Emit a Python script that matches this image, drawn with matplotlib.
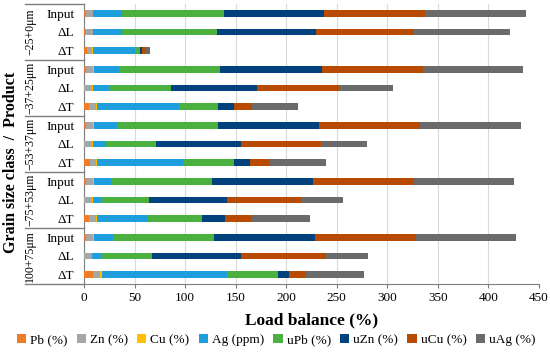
import matplotlib
matplotlib.use("Agg")
import matplotlib.pyplot as plt
import matplotlib.transforms as mtransforms
import numpy as np

plt.rcParams['font.family'] = ['Liberation Serif', 'DejaVu Serif']

groups = ['\u221225+0\u03bcm', '\u221237+25\u03bcm', '\u221253+37\u03bcm', '\u221275+53\u03bcm', '100+75\u03bcm']
products = ['Input', '\u0394L', '\u0394T']

series_names = ['Pb (%)', 'Zn (%)', 'Cu (%)', 'Ag (ppm)', 'uPb (%)', 'uZn (%)', 'uCu (%)', 'uAg (%)']
colors = ['#f07c28', '#a6a6a6', '#ffc000', '#1f9ede', '#4cb040', '#02427c', '#b84a02', '#6b6b6b']

# one value per row: group by group, Input / dL / dT
pb = [2, 2, 2.5, 2, 0.5, 5, 2, 0.5, 6, 2, 0.5, 4.6, 2, 0.5, 8.6]
zn = [6.5, 6.5, 5.5, 7, 7.5, 7, 7, 7.5, 6, 7, 7.5, 7.4, 7, 7.1, 7.2]
cu = [0.5, 0.5, 1, 0.5, 0.5, 0.5, 0.5, 0.5, 0.5, 0.5, 0.5, 0.5, 0.5, 0.4, 1.7]
ag = [29, 28.6, 41, 25.5, 16.5, 81.5, 23.5, 13, 85.5, 17.5, 8.5, 51.1, 19.5, 9, 124.2]
upb = [100, 94.4, 5, 100, 61, 38.5, 100, 49.5, 50, 99.6, 47, 53.1, 99.6, 50, 50.3]
uzn = [99, 97.5, 2.5, 100, 85, 15.5, 99.6, 84, 16, 99.4, 77, 23.1, 100, 88.6, 11]
ucu = [100, 96.5, 3.2, 100, 81.5, 18, 99.4, 79.6, 20, 100, 74, 25.2, 99.9, 83.4, 17]
uag = [100, 95, 4.3, 99, 53.5, 46, 100, 44.9, 55, 99.5, 41, 58.6, 99.2, 41.4, 57.3]

all_series = [pb, zn, cu, ag, upb, uzn, ucu, uag]

fig = plt.figure(figsize=(5.5, 3.53), dpi=100)
ax = fig.add_axes([0.1527, 0.1955, 0.8273, 0.7932])

n_rows = len(groups) * len(products)
y = np.arange(n_rows)
left = np.zeros(n_rows)
handles = []
for vals, c, name in zip(all_series, colors, series_names):
    b = ax.barh(y, vals, left=left, height=0.37, color=c, label=name, zorder=3)
    handles.append(b)
    left = left + np.array(vals)

ax.set_xlim(0, 450)
ax.set_ylim(n_rows - 0.5, -0.5)
ax.set_xticks(np.arange(0, 451, 50))
ax.grid(axis='x', color='#d9d9d9', linewidth=0.8, zorder=0)
ax.set_axisbelow(True)

ax.set_yticks(y)
ax.set_yticklabels(products * len(groups), fontsize=9.5)
ax.tick_params(axis='y', length=0, pad=7)
ax.tick_params(axis='x', labelsize=9.5, length=3, color='#7f7f7f', pad=3)

for s in ['top', 'right']:
    ax.spines[s].set_visible(False)
ax.spines['left'].set_color('#7f7f7f')
ax.spines['bottom'].set_color('#7f7f7f')

# outer category level
trans = mtransforms.blended_transform_factory(ax.transAxes, ax.transData)
x_line = -59 / 455.0
for i in range(len(groups) + 1):
    yy = i * len(products) - 0.5
    ax.plot([x_line, 0], [yy, yy], transform=trans, color='#7f7f7f', lw=1, clip_on=False)
for i, g in enumerate(groups):
    yc = i * len(products) + 1
    ax.text(-54 / 455.0, yc, g, transform=trans, rotation=90, ha='center', va='center', fontsize=8.5)

ax.set_xlabel('Load balance (%)', fontsize=12.5, fontweight='bold', labelpad=6)
fig.text(0.02, 0.54, 'Grain size class  /  Product', rotation=90, ha='center', va='center',
         fontsize=11.5, fontweight='bold')

fig.legend(handles=handles, loc='center', bbox_to_anchor=(0.502, 0.037), ncol=8, frameon=False,
           fontsize=9.5, handlelength=0.7, handleheight=0.7, handletextpad=0.3, columnspacing=0.7)

fig.savefig('out.png', dpi=100)
